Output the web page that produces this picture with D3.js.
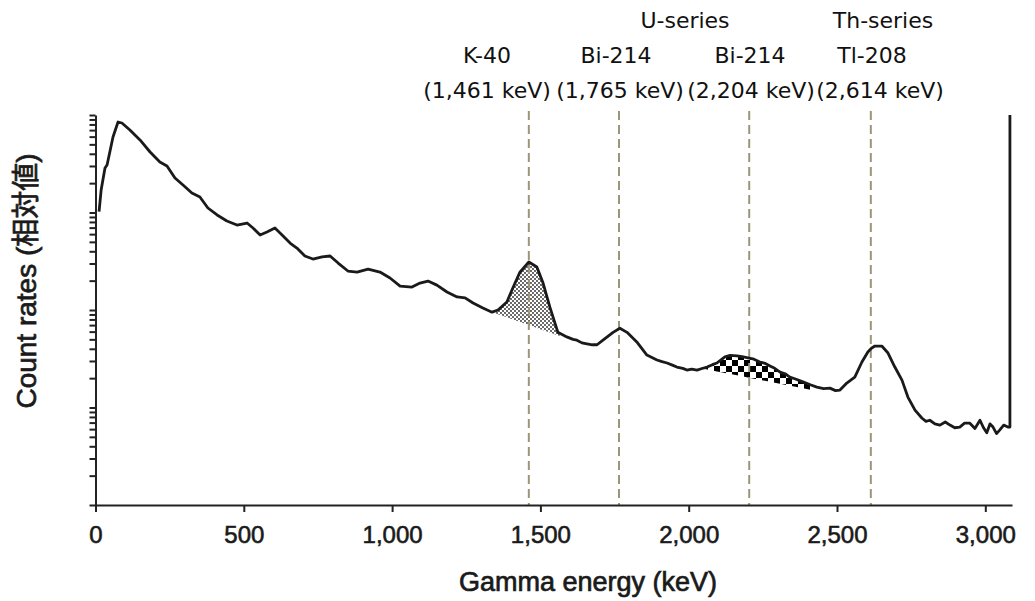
<!DOCTYPE html>
<html lang="en">

<head>
    <meta charset="UTF-8">
    <script src='https://d3js.org/d3.v7.min.js'></script>
    <style>
        body {
            margin: 0;
            background: #fff;
        }
        .tick-label {
            font: 24px "Liberation Sans", Arial, sans-serif;
            fill: #1a1a1a;
            stroke: #1a1a1a;
            stroke-width: 0.6px;
        }
        .axis-title {
            font: 27px "Liberation Sans", Arial, "Noto Sans CJK JP", sans-serif;
            fill: #1a1a1a;
            stroke: #1a1a1a;
            stroke-width: 0.7px;
        }
        .peak-label {
            font: 22px "DejaVu Sans", "Liberation Sans", sans-serif;
            fill: #111;
            text-anchor: middle;
        }
    </style>
    <title>Gamma spectrum</title>
</head>

<body>
<div id="chart"></div>

<script>
// Data: energy in keV, relative count rate
const energy = [12, 19, 32, 39, 59, 76, 89, 116, 150, 184, 217, 241, 268, 295, 325, 352, 379, 410, 443, 477,
    511, 531, 555, 578, 605, 629, 656, 679, 706, 733, 764, 791, 818, 851, 882, 919, 959, 993, 1027, 1067,
    1094, 1121, 1151, 1185, 1219, 1246, 1273, 1306, 1337, 1357, 1387, 1407, 1431, 1461, 1488, 1509, 1532, 1559,
    1589, 1610, 1623, 1640, 1657, 1675, 1691, 1711, 1745, 1768, 1792, 1825, 1859, 1893, 1910, 1927, 1945, 1960,
    1980, 1994, 2010, 2028, 2045, 2062, 2080, 2095, 2110, 2122, 2140, 2163, 2180, 2200, 2220, 2240, 2257, 2274,
    2290, 2308, 2325, 2341, 2360, 2385, 2410, 2432, 2455, 2476, 2495, 2510, 2533, 2560, 2584, 2604, 2616, 2628,
    2651, 2672, 2695, 2719, 2739, 2763, 2786, 2800, 2813, 2830, 2847, 2865, 2881, 2897, 2914, 2930, 2948, 2965,
    2982, 2994, 3005, 3016, 3026, 3038, 3049, 3062, 3076, 3083, 3083];
const counts = [1020, 1700, 2860, 3070, 5950, 8480, 8280, 7015, 5545, 4176, 3296, 3000, 2259, 1915, 1585, 1442, 1112, 943, 818, 744,
    780, 693, 588, 631, 693, 588, 486, 432, 358, 333, 350, 358, 303, 251, 245, 263, 245, 213, 176, 172,
    189, 198, 180, 153, 136, 133, 118, 105, 95, 100, 121, 168, 245, 311, 276, 189, 107, 59,
    53, 50, 49, 46, 45, 44, 44, 49, 59, 65, 59, 47, 34.5, 30.7, 29.5, 28.6, 27.2, 26,
    25.2, 24.2, 24.8, 24.2, 25.1, 26, 27.5, 28.6, 31, 33, 34.2, 33.8, 33.2, 32.2, 31.3, 29.3, 28.4, 26.7,
    25.2, 23.1, 22.2, 20.5, 19.6, 18.3, 17.1, 16.2, 15.6, 15.8, 14.9, 15.1, 17.8, 20.5, 29.3, 37.1, 40.5, 42.7,
    42.7, 36.2, 26, 19.1, 12.8, 9.4, 7.8, 7.2, 7.4, 6.8, 6.6, 7.1, 6.6, 6.2, 6.3, 6.9, 6.9, 6.1,
    7.4, 6.2, 5.5, 6.8, 6.3, 5.4, 5.9, 6.6, 6.3, 6.3, 10000];

// Peak markers
const peakEnergy = [1461, 1765, 2204, 2614];
const peakSeries = ["", "U-series", "", "Th-series"];
const peakNuclide = ["K-40", "Bi-214", "Bi-214", "Tl-208"];
const peakText = ["(1,461 keV)", "(1,765 keV)", "(2,204 keV)", "(2,614 keV)"];
const seriesCenter = [null, 685, null, 883];
const nuclideCenter = [487, 616, 750, 872];
const textCenter = [487, 620, 751, 880];

// Shaded net-peak areas: [start keV, end keV], baseline counts at start and end
const kRange = [1330, 1565];
const kBase = [97, 54];
const biRange = [2055, 2415];
const biBase = [24.8, 15.1];

const xTicks = [0, 500, 1000, 1500, 2000, 2500, 3000];

// Dimensions
const dimensions = { width: 1035, height: 601 };

const svg = d3.select("#chart")
    .append("svg")
    .attr("width", dimensions.width)
    .attr("height", dimensions.height);

// Scales
const xScale = d3.scaleLinear().domain([0, 3090]).range([95.5, 1012]);
const yScale = d3.scaleLog().domain([1, 10000]).range([505, 115]);

const data = energy.map((e, i) => ({ e: e, c: counts[i] }));

// Patterns
const defs = svg.append("defs");
const dots = defs.append("pattern")
    .attr("id", "dots")
    .attr("patternUnits", "userSpaceOnUse")
    .attr("width", 4).attr("height", 4);
dots.append("circle").attr("cx", 1).attr("cy", 1).attr("r", 0.9).attr("fill", "#222");
dots.append("circle").attr("cx", 3).attr("cy", 3).attr("r", 0.9).attr("fill", "#222");

const checker = defs.append("pattern")
    .attr("id", "checker")
    .attr("patternUnits", "userSpaceOnUse")
    .attr("width", 12).attr("height", 12);
checker.append("rect").attr("width", 12).attr("height", 12).attr("fill", "#fff");
checker.append("rect").attr("width", 6).attr("height", 6).attr("fill", "#000");
checker.append("rect").attr("x", 6).attr("y", 6).attr("width", 6).attr("height", 6).attr("fill", "#000");

// baseline straight in pixel space -> straight in log space
function baseAt(e, range, base) {
    const t = (e - range[0]) / (range[1] - range[0]);
    return Math.pow(10, Math.log10(base[0]) + t * (Math.log10(base[1]) - Math.log10(base[0])));
}
function curveAt(e) {
    const i = d3.bisector(d => d.e).left(data, e);
    const a = data[Math.max(0, i - 1)], b = data[Math.min(data.length - 1, i)];
    if (b.e === a.e) return a.c;
    const t = (e - a.e) / (b.e - a.e);
    return Math.pow(10, Math.log10(a.c) + t * (Math.log10(b.c) - Math.log10(a.c)));
}
function areaPoints(range, base) {
    const pts = [{ e: range[0], c: curveAt(range[0]) }]
        .concat(data.filter(d => d.e > range[0] && d.e < range[1]))
        .concat([{ e: range[1], c: curveAt(range[1]) }]);
    return pts.map(d => ({ e: d.e, c: d.c, b: Math.min(d.c, baseAt(d.e, range, base)) }));
}
const area = d3.area()
    .x(d => xScale(d.e))
    .y0(d => yScale(d.b))
    .y1(d => yScale(d.c));

svg.append("path")
    .datum(areaPoints(kRange, kBase))
    .attr("d", area)
    .attr("fill", "url(#dots)");

svg.append("path")
    .datum(areaPoints(biRange, biBase))
    .attr("d", area)
    .attr("fill", "url(#checker)");

// Dashed peak lines
svg.selectAll(".peak-line")
    .data(peakEnergy)
    .join("line")
    .attr("class", "peak-line")
    .attr("x1", d => xScale(d)).attr("x2", d => xScale(d))
    .attr("y1", 111).attr("y2", 505)
    .attr("stroke", "#9c9678")
    .attr("stroke-width", 2)
    .attr("stroke-dasharray", "9,5");

// Spectrum line
const lineGenerator = d3.line()
    .x(d => xScale(d.e))
    .y(d => yScale(d.c));

svg.append("path")
    .datum(data)
    .attr("d", lineGenerator)
    .attr("fill", "none")
    .attr("stroke", "#1a1a1a")
    .attr("stroke-width", 2.8)
    .attr("stroke-linejoin", "round");

// Axis
const yAxis = d3.axisLeft(yScale)
    .tickValues(yScale.ticks())
    .tickFormat("")
    .tickSize(6)
    .tickSizeOuter(0);
svg.append("g")
    .attr("transform", `translate(${xScale(0)},0)`)
    .call(yAxis)
    .call(g => g.selectAll("line").attr("stroke", "#222").attr("stroke-width", 2))
    .call(g => g.select(".domain").attr("stroke", "#222").attr("stroke-width", 2));

const xAxis = d3.axisBottom(xScale)
    .tickValues(xTicks)
    .tickFormat(d3.format(","))
    .tickSize(7)
    .tickSizeOuter(0);
svg.append("g")
    .attr("transform", "translate(0,505)")
    .call(xAxis)
    .call(g => g.selectAll("line").attr("stroke", "#222").attr("stroke-width", 2))
    .call(g => g.select(".domain").attr("stroke", "#222").attr("stroke-width", 2))
    .call(g => g.selectAll("text")
        .attr("class", "tick-label")
        .attr("y", 21)
        .attr("dy", "0.71em")
        .attr("fill", null));

// Titles
svg.append("text")
    .attr("class", "axis-title")
    .attr("x", 588).attr("y", 591)
    .attr("text-anchor", "middle")
    .text("Gamma energy (keV)");

svg.append("text")
    .attr("class", "axis-title")
    .attr("transform", "translate(36,281) rotate(-90)")
    .attr("text-anchor", "middle")
    .style("font-size", "28px")
    .text("Count rates (相対値)");

// Peak labels
svg.selectAll(".series-label")
    .data(peakSeries.map((s, i) => ({ s: s, x: seriesCenter[i] })).filter(d => d.s))
    .join("text")
    .attr("class", "peak-label")
    .attr("x", d => d.x).attr("y", 28)
    .text(d => d.s);

svg.selectAll(".nuclide-label")
    .data(peakNuclide)
    .join("text")
    .attr("class", "peak-label")
    .attr("x", (d, i) => nuclideCenter[i]).attr("y", 63)
    .text(d => d);

svg.selectAll(".energy-label")
    .data(peakText)
    .join("text")
    .attr("class", "peak-label")
    .attr("x", (d, i) => textCenter[i]).attr("y", 98)
    .text(d => d);
</script>

</body>

</html>
